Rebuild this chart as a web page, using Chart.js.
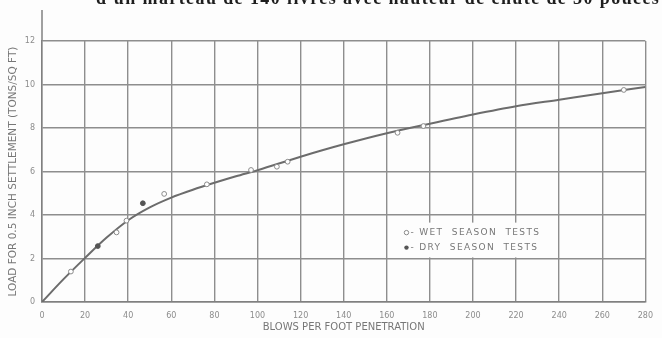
<!DOCTYPE html>
<html>
<head>
<meta charset="utf-8">
<script src="https://cdn.jsdelivr.net/npm/chart.js@4.4.1/dist/chart.umd.min.js"></script>
<style>
  html, body { margin: 0; padding: 0; background: #fdfdfd; overflow: hidden; }
  #wrap { position: relative; width: 662px; height: 338px; overflow: hidden; }
  #chart { position: absolute; left: 0; top: 0; }
  #caption {
    position: absolute; left: 96px; top: -12px;
    font: bold 18px "Liberation Serif", serif; color: #1e1e1e;
    white-space: nowrap; letter-spacing: 1.4px;
  }
</style>
</head>
<body>
<div id="wrap">
  <canvas id="chart" width="662" height="338"></canvas>
  <div id="caption">d'un marteau de 140 livres avec hauteur de chute de 30 pouces</div>
</div>
<script>
// Fitted load curve: blows per foot vs. load for 0.5 in settlement
const curveBlows = [0, 10, 20, 30, 40, 50, 60, 70, 80, 90, 100, 120, 140, 160, 180, 200, 220, 240, 260, 280];
const curveLoad  = [0, 1.05, 2.03, 2.96, 3.76, 4.35, 4.8, 5.16, 5.48, 5.78, 6.06, 6.68, 7.25, 7.76, 8.2, 8.62, 9.0, 9.3, 9.6, 9.89];

// Wet season tests
const wetBlows = [13.4, 34.6, 39.2, 56.7, 76.5, 97, 109, 114, 165, 177, 270];
const wetLoad  = [1.4, 3.2, 3.74, 4.97, 5.41, 6.07, 6.22, 6.45, 7.78, 8.09, 9.75];

// Dry season tests
const dryBlows = [25.9, 46.8];
const dryLoad  = [2.57, 4.54];

// Axis ticks
const xTicks = [0, 20, 40, 60, 80, 100, 120, 140, 160, 180, 200, 220, 240, 260, 280];
const yTicks = [0, 2, 4, 6, 8, 10, 12];

const legendLabels = ['- WET  SEASON  TESTS', '- DRY  SEASON  TESTS'];

const pairs = (xs, ys) => xs.map((x, i) => ({ x: x, y: ys[i] }));

const INK = '#777777';
const GRID = '#8e8e8e';
const FONT = '"DejaVu Sans", sans-serif';

// Left axis runs a little above the top grid line
const axisExtension = {
  id: 'axisExtension',
  afterDraw(chart) {
    const { ctx, chartArea } = chart;
    ctx.save();
    ctx.strokeStyle = '#808080';
    ctx.lineWidth = 1.5;
    ctx.beginPath();
    ctx.moveTo(chartArea.left, 10);
    ctx.lineTo(chartArea.left, chartArea.top);
    ctx.stroke();
    ctx.restore();
  }
};

// Boxed key inside the plot
const keyBox = {
  id: 'keyBox',
  afterDatasetsDraw(chart) {
    const { ctx, scales } = chart;
    const x0 = scales.x.getPixelForValue(164.5);
    const x1 = scales.x.getPixelForValue(233);
    const y0 = scales.y.getPixelForValue(3.65);
    const y1 = scales.y.getPixelForValue(2.05);
    ctx.save();
    ctx.fillStyle = '#fdfdfd';
    ctx.fillRect(x0, y0, x1 - x0, y1 - y0);
    ctx.font = '9px ' + FONT;
    ctx.letterSpacing = '1.35px';
    ctx.textBaseline = 'middle';
    const rows = [y0 + 10, y0 + 25];
    rows.forEach((ry, i) => {
      const mx = x0 + 10;
      ctx.beginPath();
      ctx.arc(mx, ry, 2.2, 0, Math.PI * 2);
      if (i === 0) {
        ctx.fillStyle = '#fff'; ctx.fill();
        ctx.strokeStyle = '#8a8a8a'; ctx.lineWidth = 1; ctx.stroke();
      } else {
        ctx.fillStyle = '#555'; ctx.fill();
      }
      ctx.fillStyle = INK;
      ctx.fillText(legendLabels[i], mx + 4, ry);
    });
    ctx.restore();
  }
};

new Chart(document.getElementById('chart'), {
  data: {
    datasets: [
      {
        type: 'scatter', label: 'Wet season tests', order: 0,
        data: pairs(wetBlows, wetLoad),
        pointStyle: 'circle', pointRadius: 2.4,
        backgroundColor: '#ffffff', borderColor: '#8a8a8a', borderWidth: 1
      },
      {
        type: 'scatter', label: 'Dry season tests', order: 0,
        data: pairs(dryBlows, dryLoad),
        pointStyle: 'circle', pointRadius: 2.4,
        backgroundColor: '#555555', borderColor: '#555555', borderWidth: 1
      },
      {
        type: 'line', label: 'Curve', order: 1,
        data: pairs(curveBlows, curveLoad),
        borderColor: '#6c6c6c', borderWidth: 2,
        pointRadius: 0, fill: false,
        tension: 0.4, cubicInterpolationMode: 'monotone'
      }
    ]
  },
  options: {
    responsive: false,
    animation: false,
    events: [],
    layout: { padding: { top: 41, right: 7, left: 0, bottom: 0 } },
    plugins: { legend: { display: false }, tooltip: { enabled: false } },
    scales: {
      x: {
        type: 'linear', min: 0, max: 280,
        afterBuildTicks(s) { s.ticks = xTicks.map(v => ({ value: v })); },
        afterFit(s) { s.height = 36; },
        ticks: { color: '#8c8c8c', font: { family: FONT, size: 8 }, padding: 9, maxRotation: 0, autoSkip: false },
        grid: { color: GRID, lineWidth: 1.4, drawTicks: false },
        border: { color: '#808080', width: 1.5 },
        title: {
          display: true, text: 'BLOWS PER FOOT PENETRATION',
          color: INK, font: { family: FONT, size: 10 },
          padding: { top: 0, bottom: 5 }
        }
      },
      y: {
        type: 'linear', min: 0, max: 12,
        afterBuildTicks(s) { s.ticks = yTicks.map(v => ({ value: v })); },
        afterFit(s) { s.width = 42; },
        ticks: { color: '#8c8c8c', font: { family: FONT, size: 8 }, padding: 7 },
        grid: { color: GRID, lineWidth: 1.4, drawTicks: false },
        border: { color: '#808080', width: 1.5 },
        title: {
          display: true, text: 'LOAD FOR 0.5 INCH SETTLEMENT (TONS/SQ FT)',
          color: INK, font: { family: FONT, size: 10.5 },
          padding: { top: 7, bottom: 0 }
        }
      }
    }
  },
  plugins: [axisExtension, keyBox]
});
</script>
</body>
</html>
